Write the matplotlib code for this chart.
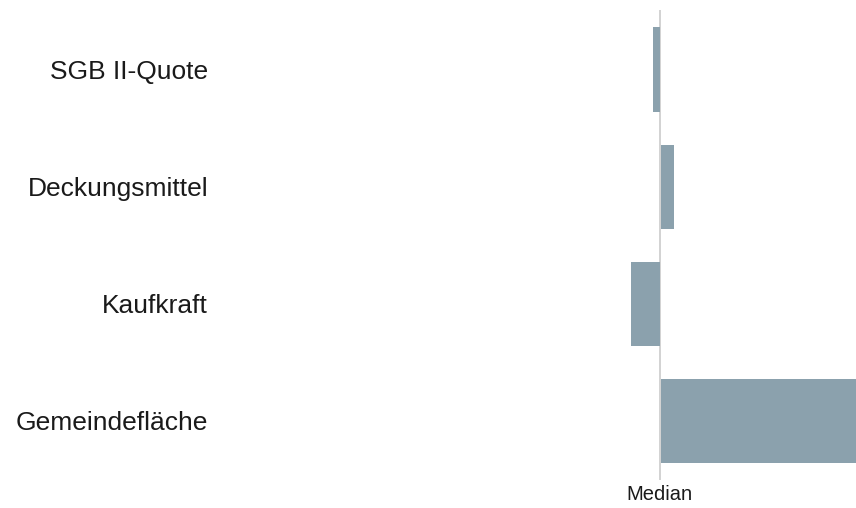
import matplotlib
matplotlib.use("Agg")
import matplotlib.pyplot as plt

categories = ["SGB II-Quote", "Deckungsmittel", "Kaufkraft", "Gemeindefläche"]
values = [-7, 13, -29, 200]
median_label = "Median"

plt.rcParams['font.family'] = ['Liberation Sans', 'DejaVu Sans']

W, H = 856, 508
fig = plt.figure(figsize=(W / 100, H / 100), dpi=100)
left_px, right_px, top_px, bottom_px = 215, 856, 10, 480
ax = fig.add_axes([left_px / W, 1 - bottom_px / H, (right_px - left_px) / W, (bottom_px - top_px) / H])

ypos = list(range(len(categories)))
gap = 1.5
lefts = [gap if v > 0 else 0 for v in values]
ax.barh(ypos, values, left=lefts, height=0.72, color='#8ba1ad', zorder=2)
ax.axvline(0, color='#d2d2d2', lw=1.4, zorder=1)

ax.set_xlim(-444.5, 196.5)
ax.set_ylim(3.504, -0.509)
ax.set_yticks(ypos)
ax.set_yticklabels(categories, fontsize=19, color='#1a1a1a')
ax.tick_params(axis='y', length=0, pad=5)
ax.set_xticks([])
for s in ax.spines.values():
    s.set_visible(False)

ax.text(0, 3.63, median_label, ha='center', va='center', fontsize=14.5, color='#1a1a1a', clip_on=False)

fig.savefig("out.png", dpi=100)
